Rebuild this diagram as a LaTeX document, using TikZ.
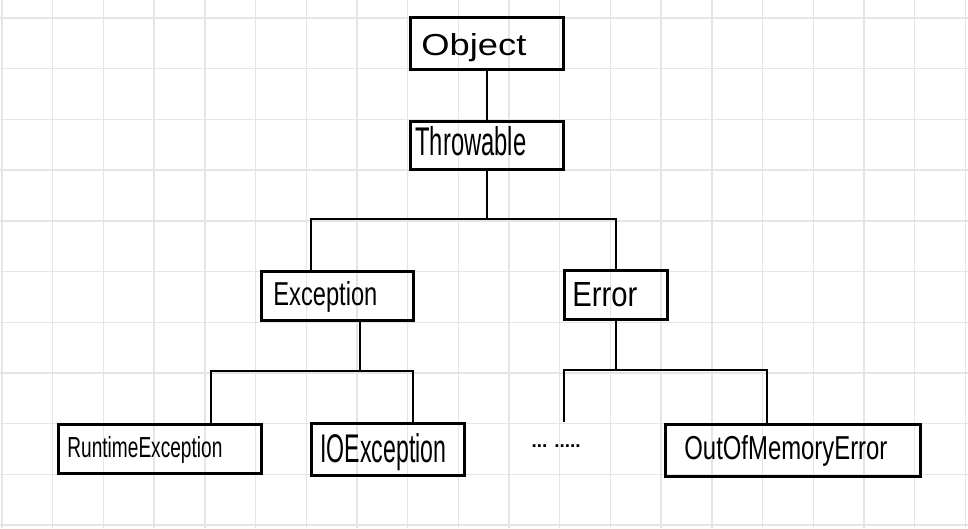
\documentclass[tikz,border=0pt]{standalone}
\usepackage{fontspec}
\setmainfont{Liberation Sans}
\usepackage{graphicx}
\newcommand\bxt[5]{\makebox[#1pt][l]{\hspace*{#2pt}\resizebox{#3pt}{#4pt}{#5}}}
\newcommand\shft[2]{\raisebox{#1pt}[\height][\depth]{#2}}
\begin{document}
\begin{tikzpicture}[x=1pt,y=-1pt,
  gridline/.style={draw=black!10,line width=1.4pt},
  box/.style={draw=black,line width=2.8pt,inner sep=0pt,anchor=north west,font=\fontsize{30}{30}\selectfont},
  conn/.style={draw=black,line width=2.8pt,line cap=rect}]
\useasboundingbox (0,0) rectangle (968,528);
\fill[white] (0,0) rectangle (968,528);
\foreach \i in {0,...,19} \draw[gridline] ({2+50.7*\i},0) -- ({2+50.7*\i},528);
\foreach \j in {0,...,10} \draw[gridline] (0,{18+50.7*\j}) -- (968,{18+50.7*\j});

\node[box,minimum width=153pt,minimum height=52pt] (obj) at (409,16) {\shft{-4}{\bxt{153}{11}{105}{22}{Object}}};
\node[box,minimum width=153pt,minimum height=48pt] (thr) at (409,120) {\shft{4}{\bxt{153}{5}{111}{29}{Throwable}}};
\node[box,minimum width=152pt,minimum height=49pt] (exc) at (260,270) {\shft{-1}{\bxt{152}{12}{104}{24}{Exception}}};
\node[box,minimum width=103pt,minimum height=49pt] (err) at (563,269) {\shft{0}{\bxt{103}{8}{65}{24}{Error}}};
\node[box,minimum width=203pt,minimum height=49pt] (rte) at (57,423) {\shft{-1}{\bxt{203}{9}{155}{21}{RuntimeException}}};
\node[box,minimum width=153pt,minimum height=52pt] (ioe) at (310,422) {\shft{-3}{\bxt{153}{9}{126}{29}{IOException}}};
\node[box,minimum width=255pt,minimum height=52pt] (oom) at (664,423) {\shft{-1}{\bxt{255}{19}{203}{24}{OutOfMemoryError}}};
\node[inner sep=0pt] (dots) at (556,446) {\resizebox{49pt}{!}{\bfseries ... .....}};

\coordinate (t1) at (311,219);
\coordinate (e1) at (211,371);
\coordinate (e2) at (360,371);
\coordinate (e3) at (413,371);
\coordinate (r1) at (564,370);
\coordinate (r2) at (767,370);
\coordinate (rfree) at (564,421);

\draw[conn] (obj.south) -- (thr.north);
\draw[conn] (thr.south) -- (thr.south |- t1);
\draw[conn] (exc.north -| t1) -- (t1) -- (t1 -| err.north) -- (err.north);
\draw[conn] (exc.south -| e2) -- (e2);
\draw[conn] (rte.north -| e1) -- (e1) -- (e3) -- (ioe.north -| e3);
\draw[conn] (err.south) -- (err.south |- r1);
\draw[conn] (rfree) -- (r1) -- (r2) -- (oom.north -| r2);
\end{tikzpicture}
\end{document}
